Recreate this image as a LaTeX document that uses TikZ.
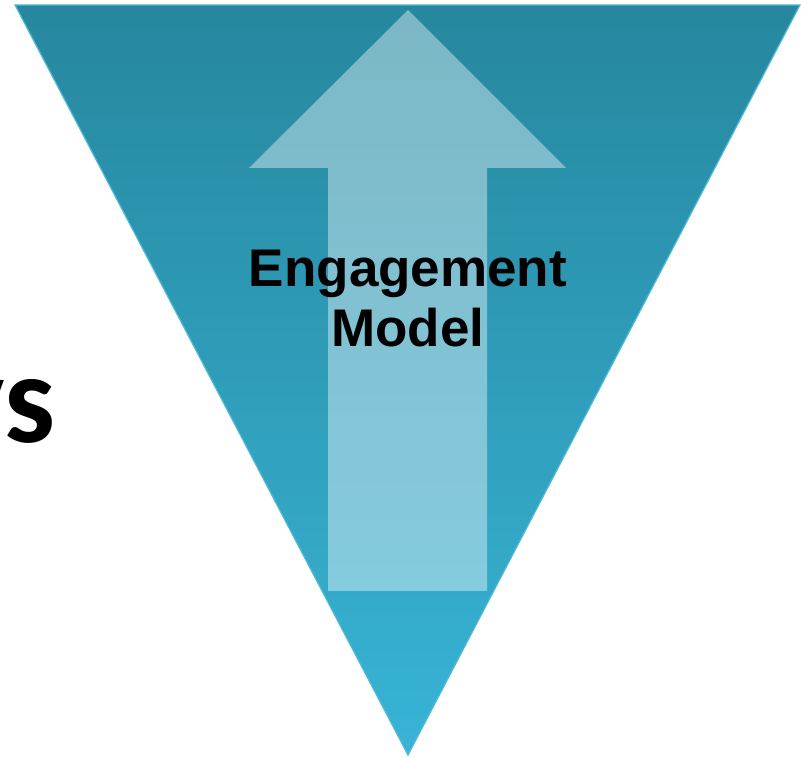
\documentclass[tikz,border=0pt]{standalone}
\usepackage{fontspec}
\setmainfont{Liberation Sans}
\newfontfamily\vsfont{Carlito}
\usetikzlibrary{positioning}
\definecolor{funneltop}{RGB}{38,135,158}
\definecolor{funnelbot}{RGB}{56,180,214}
\definecolor{funnelrim}{RGB}{80,186,216}

\begin{document}
\begin{tikzpicture}[x=1pt,y=1pt,
  funnel/.style={top color=funneltop, bottom color=funnelbot, draw=funnelrim, line width=1.2pt},
  upshaft/.style={fill=white, fill opacity=0.4},
  label/.style={font=\bfseries\fontsize{53}{60}\selectfont, align=center, inner sep=0pt}]
  \useasboundingbox (0,0) rectangle (807,758);
  \coordinate (tl) at (15,753);
  \coordinate (tr) at (800,753);
  \coordinate (apex) at (408,3);
  \shade[funnel] (tl) -- (tr) -- (apex) -- cycle;
  % arrow pointing up
  \fill[upshaft] (408,748) -- (566,590) -- (487,590) -- (487,167)
    -- (328,167) -- (328,590) -- (249,590) -- cycle;
  \draw (408,411)node[label, anchor=base](model){Engagement\\Model};
  \draw (56,315)node[anchor=base east, inner sep=0pt, font=\vsfont\bfseries\fontsize{128}{130}\selectfont](vs){vs};
\end{tikzpicture}
\end{document}
